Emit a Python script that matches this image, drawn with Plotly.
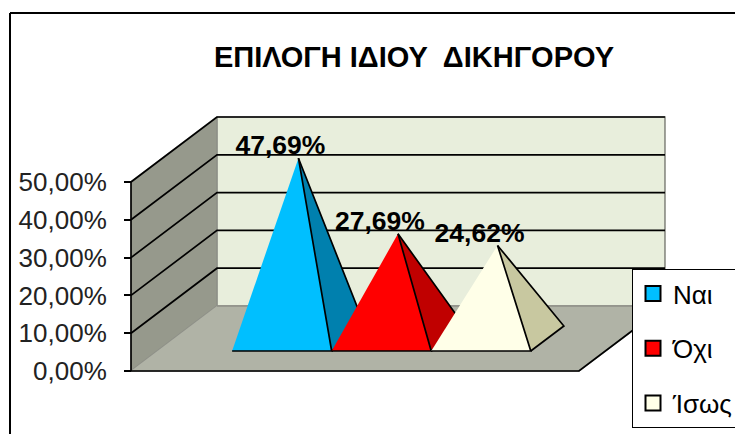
import plotly.graph_objects as go

categories = ["Ναι", "Όχι", "Ίσως"]
values = [47.69, 27.69, 24.62]
labels = ["47,69%", "27,69%", "24,62%"]
front_colors = ["#00BFFF", "#FF0000", "#FFFFE8"]
side_colors = ["#0080AE", "#C00000", "#C8C8A0"]
tick_values = [0, 10, 20, 30, 40, 50]
tick_labels = ["0,00%", "10,00%", "20,00%", "30,00%", "40,00%", "50,00%"]

PAGE = 8                         # the page body margin that precedes the figure
W, H = 743 - PAGE, 434 - PAGE
X0_PX, Y0_PX = 131 - PAGE, 371 - PAGE   # front-left floor corner
CAT_PX = 99.55                   # pixels per category
VAL_PX = 3.78                    # pixels per percentage point
DEPTH_DX = 86 / CAT_PX           # full depth expressed in category units
DEPTH_DY = 65 / VAL_PX           # full depth expressed in value units
GAP = 0.75
FLOOR_W = GAP * 2 + len(categories)
VMAX = tick_values[-1]


def proj(x, d, v):
    return x + d * DEPTH_DX, v + d * DEPTH_DY


def poly(points, fill, line="black", width=1.7):
    xs, ys = zip(*[proj(*p) for p in points])
    return go.Scatter(x=list(xs), y=list(ys), mode="lines", fill="toself", fillcolor=fill,
                      line=dict(color=line, width=width), showlegend=False, hoverinfo="skip")


def path(points, color="black", width=1.7):
    xs, ys = zip(*[proj(*p) for p in points])
    return go.Scatter(x=list(xs), y=list(ys), mode="lines",
                      line=dict(color=color, width=width), showlegend=False, hoverinfo="skip")


fig = go.Figure()

# walls and floor
fig.add_trace(poly([(0, 1, 0), (FLOOR_W, 1, 0), (FLOOR_W, 1, VMAX), (0, 1, VMAX)], "#E8EEDC", "#8E9088"))
fig.add_trace(poly([(0, 0, 0), (0, 1, 0), (0, 1, VMAX), (0, 0, VMAX)], "#96998C", "#8E9088"))
fig.add_trace(poly([(0, 0, 0), (FLOOR_W, 0, 0), (FLOOR_W, 1, 0), (0, 1, 0)], "#B0B3A6", "#8E9088"))

# gridlines and structural edges
for t in tick_values[1:]:
    fig.add_trace(path([(0, 0, t), (0, 1, t), (FLOOR_W, 1, t)]))
fig.add_trace(path([(0, 0, 0), (0, 0, VMAX)]))
fig.add_trace(path([(0, 0, 0), (FLOOR_W, 0, 0), (FLOOR_W, 1, 0)]))

# pyramids
D_FRONT, D_BACK, D_MID = 20 / 65, 45 / 65, 0.5
for i, v in enumerate(values):
    left = GAP + i
    right = left + 1
    apex = (left + 0.5, D_MID, v)
    fig.add_trace(poly([(right, D_FRONT, 0), (right, D_BACK, 0), apex], side_colors[i]))
    fig.add_trace(poly([(left, D_FRONT, 0), (right, D_FRONT, 0), apex], front_colors[i]))

# data labels
lx, ly = [], []
for i, v in enumerate(values):
    ax, ay = proj(GAP + i + 0.5, D_MID, v)
    lx.append(ax - 18 / CAT_PX)
    ly.append(ay + 10.5 / VAL_PX)
fig.add_trace(go.Scatter(x=lx, y=ly, mode="text", text=[f"<b>{s}</b>" for s in labels],
                         textposition="middle center",
                         textfont=dict(family="Liberation Sans", size=26.5, color="black"),
                         showlegend=False, hoverinfo="skip"))

# legend entries
for i, c in enumerate(categories):
    fig.add_trace(go.Scatter(x=[None], y=[None], mode="markers", name=c, legendgroup=c,
                             marker=dict(symbol="square", size=15, color=front_colors[i],
                                         line=dict(color="black", width=2))))

fig.update_layout(
    width=W, height=H, autosize=False,
    margin=dict(l=0, r=0, t=0, b=0, pad=0),
    paper_bgcolor="white", plot_bgcolor="white",
    title=dict(text="<b>ΕΠΙΛΟΓΗ ΙΔΙΟΥ  ΔΙΚΗΓΟΡΟΥ</b>", x=(414 - PAGE) / W, xanchor="center",
               y=1 - (57 - PAGE) / H, yanchor="middle",
               font=dict(family="Liberation Sans", size=29, color="black")),
    xaxis=dict(range=[-X0_PX / CAT_PX, (W - X0_PX) / CAT_PX], domain=[0, 1], visible=False, fixedrange=True),
    yaxis=dict(range=[-(H - Y0_PX) / VAL_PX, Y0_PX / VAL_PX], domain=[0, 1],
               anchor="free", position=X0_PX / W, side="left",
               tickmode="array", tickvals=tick_values, ticktext=tick_labels,
               ticks="outside", ticklen=7, tickwidth=1.5, tickcolor="black", ticklabelstandoff=12,
               showgrid=False, zeroline=False, showline=False,
               tickfont=dict(family="Liberation Sans", size=26, color="#222222"), fixedrange=True),
    legend=dict(x=(632 - PAGE) / W, y=1 - (269 - PAGE) / H, xanchor="left", yanchor="top",
                bgcolor="white", bordercolor="black", borderwidth=1,
                font=dict(family="Liberation Sans", size=26, color="black"),
                tracegroupgap=18, itemclick=False, itemdoubleclick=False),
    shapes=[
        dict(type="line", xref="paper", yref="paper", x0=(10 - PAGE) / W, x1=(10 - PAGE) / W, y0=0,
             y1=1 - (13 - PAGE) / H, line=dict(color="black", width=2)),
        dict(type="line", xref="paper", yref="paper", x0=(10 - PAGE) / W, x1=1, y0=1 - (13 - PAGE) / H,
             y1=1 - (13 - PAGE) / H, line=dict(color="black", width=2)),
    ],
)
fig.write_html("out.html")
